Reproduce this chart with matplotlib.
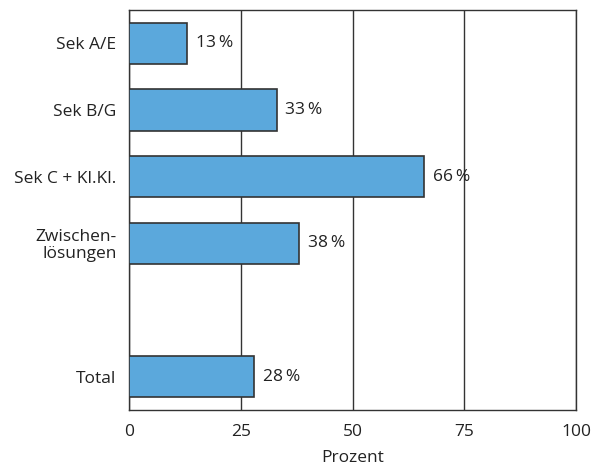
import matplotlib
matplotlib.use("Agg")
import matplotlib.pyplot as plt

plt.rcParams['font.family'] = ['Open Sans', 'DejaVu Sans']

# Kategorien und Anteile in Prozent (Lücke vor "Total")
categories = ["Sek A/E", "Sek B/G", "Sek C + Kl.Kl.", "Zwischen-\nlösungen", "Total"]
values = [13, 33, 66, 38, 28]
positions = [0, 1, 2, 3, 5]
xticks = [0, 25, 50, 75, 100]

text_color = "#222222"
bar_color = "#5ba8dc"
line_color = "#333333"
fs = 12.5

fig = plt.figure(figsize=(5.92, 4.68), dpi=100)
ax = fig.add_axes([0.2179, 0.1239, 0.7551, 0.8547])

ax.barh(positions, values, height=0.62, color=bar_color,
        edgecolor=line_color, linewidth=1.2, zorder=3)

for p, v in zip(positions, values):
    ax.text(v + 2.0, p, f"{v}\u2009%", va="center", ha="left",
            fontsize=fs, color=text_color)

ax.set_xlim(0, 100)
ax.set_ylim(5.5, -0.5)
ax.set_xticks(xticks)
ax.set_yticks(positions)
ax.set_yticklabels(categories, fontsize=fs, color=text_color, linespacing=1.05)
ax.tick_params(axis="x", labelsize=fs, labelcolor=text_color, length=0, pad=10)
ax.tick_params(axis="y", length=0, pad=9)

ax.xaxis.grid(True, color=line_color, linewidth=1.0, zorder=0)
ax.set_axisbelow(True)
for s in ax.spines.values():
    s.set_color(line_color)
    s.set_linewidth(1.0)

ax.set_xlabel("Prozent", fontsize=fs, color=text_color, labelpad=7)

fig.savefig("out.png", dpi=100)
